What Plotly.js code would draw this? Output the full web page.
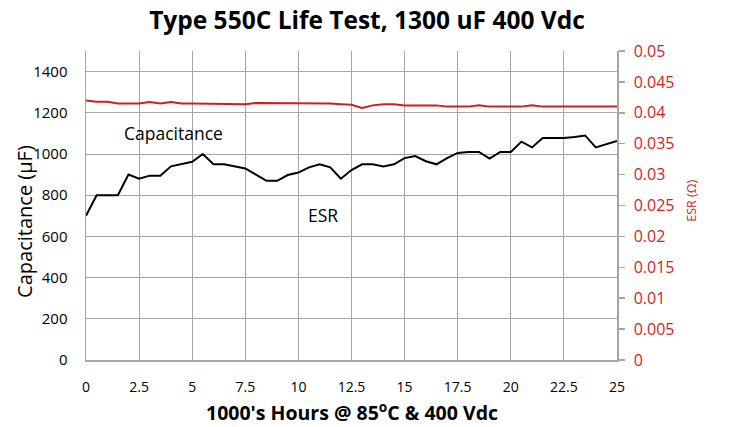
<!DOCTYPE html>
<html>
<head>
<meta charset="utf-8">
<script src="https://cdn.plot.ly/plotly-3.0.1.min.js"></script>
<style>html,body{margin:0;padding:0;background:#fff;}#chart{width:734px;height:427px;}</style>
</head>
<body>
<div id="chart"></div>
<script>
const hours = [0,0.5,1,1.5,2,2.5,3,3.5,4,4.5,5,5.5,6,6.5,7,7.5,8,8.5,9,9.5,10,10.5,11,11.5,12,12.5,13,13.5,14,14.5,15,15.5,16,16.5,17,17.5,18,18.5,19,19.5,20,20.5,21,21.5,22,22.5,23,23.5,24,24.5,25];
const capacitance = [700,800,800,800,900,880,895,895,940,950,962,1000,950,950,940,930,900,870,870,898,910,935,950,935,880,922,950,950,940,950,980,990,965,950,980,1005,1010,1010,978,1010,1010,1060,1032,1078,1078,1078,1083,1090,1032,1046,1063];
const esr = [0.0420,0.0418,0.0418,0.0415,0.0415,0.0415,0.04175,0.0415,0.04175,0.0415,0.0415,0.0415,0.0415,0.0415,0.0415,0.0414,0.0416,0.0416,0.0416,0.0416,0.0415,0.0415,0.0415,0.0415,0.0414,0.0413,0.0408,0.0412,0.0414,0.0414,0.0412,0.0412,0.0412,0.0412,0.0410,0.0410,0.0410,0.0412,0.0410,0.0410,0.0410,0.0410,0.0412,0.0410,0.0410,0.0410,0.0410,0.0410,0.0410,0.0410,0.0410];
const xTicks = [0,2.5,5,7.5,10,12.5,15,17.5,20,22.5,25];
const capTicks = [0,200,400,600,800,1000,1200,1400];
const esrTicks = [0,0.005,0.01,0.015,0.02,0.025,0.03,0.035,0.04,0.045,0.05];

const font = "'Open Sans', 'DejaVu Sans', sans-serif";
const red = '#cc1f1f';
const grid = '#a6a6a6';

const traces = [
  {x: hours, y: capacitance, type: 'scatter', mode: 'lines', yaxis: 'y',
   line: {color: '#000000', width: 2}, name: 'Capacitance', hoverinfo: 'skip'},
  {x: hours, y: esr, type: 'scatter', mode: 'lines', yaxis: 'y2',
   line: {color: red, width: 2}, name: 'ESR', hoverinfo: 'skip'}
];

const layout = {
  width: 734, height: 427,
  margin: {l: 86, r: 117, t: 51, b: 67},
  paper_bgcolor: '#ffffff', plot_bgcolor: '#ffffff',
  showlegend: false,
  font: {family: font, color: '#000', size: 14},
  title: {text: '<b>Type 550C Life Test, 1300 uF 400 Vdc</b>', x: 0.5, xanchor: 'center', y: 0.951, yanchor: 'middle',
          font: {family: font, size: 24.5, color: '#000'}},
  xaxis: {
    range: [0, 25], tickvals: xTicks, ticktext: xTicks.map(String),
    showgrid: true, gridcolor: grid, gridwidth: 1,
    showline: true, linecolor: grid, linewidth: 1.5,
    zeroline: false, ticks: '', ticklabelstandoff: 14,
    tickfont: {family: font, size: 14, color: '#000'}
  },
  yaxis: {
    range: [0, 1500], tickvals: capTicks, ticktext: capTicks.map(String),
    showgrid: true, gridcolor: grid, gridwidth: 1,
    showline: true, linecolor: grid, linewidth: 1.5,
    zeroline: false, ticks: '', ticklabelstandoff: 14,
    tickfont: {family: font, size: 15, color: '#000'}
  },
  yaxis2: {
    range: [0, 0.05], overlaying: 'y', side: 'right',
    tickvals: esrTicks, ticktext: esrTicks.map(String),
    showgrid: false, zeroline: false,
    showline: true, linecolor: grid, linewidth: 1.5,
    ticks: 'outside', ticklen: 6, tickcolor: grid, tickwidth: 1.5,
    ticklabelstandoff: 6,
    tickfont: {family: font, size: 16, color: red}
  },
  annotations: [
    {x: 4.13, y: 1102, xref: 'x', yref: 'y', text: 'Capacitance', showarrow: false,
     font: {family: font, size: 17.5, color: '#000'}},
    {x: 11.14, y: 704, xref: 'x', yref: 'y', text: 'ESR', showarrow: false,
     font: {family: font, size: 17.5, color: '#000'}},
    {x: 0.5, y: -0.168, xref: 'paper', yref: 'paper', xanchor: 'center', yanchor: 'middle',
     text: "<b>1000's Hours @ 85<sup>o</sup>C & 400 Vdc</b>", showarrow: false,
     font: {family: font, size: 19.5, color: '#000'}},
    {x: -0.115, y: 0.45, xref: 'paper', yref: 'paper', xanchor: 'center', yanchor: 'middle', textangle: -90,
     text: 'Capacitance (μF)', showarrow: false,
     font: {family: font, size: 20, color: '#000'}},
    {x: 1.141, y: 0.515, xref: 'paper', yref: 'paper', xanchor: 'center', yanchor: 'middle', textangle: -90,
     text: 'ESR (Ω)', showarrow: false,
     font: {family: font, size: 12.5, color: red}}
  ]
};

Plotly.newPlot('chart', traces, layout, {displayModeBar: false, staticPlot: true});
</script>
</body>
</html>
